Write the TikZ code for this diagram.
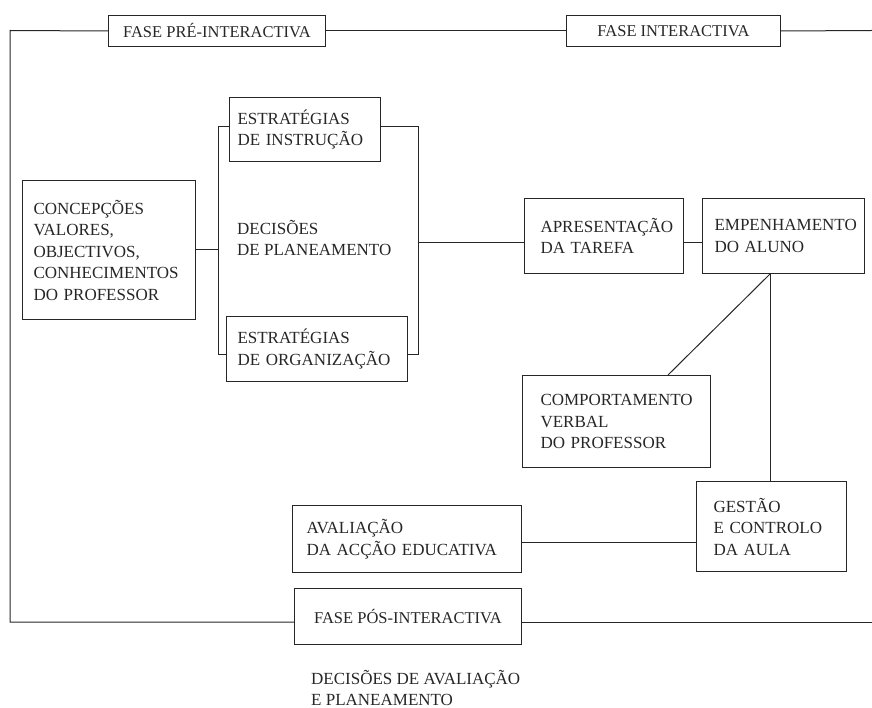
\documentclass[tikz,border=0pt]{standalone}
\usepackage{fontspec}
\setmainfont{Liberation Serif}
\definecolor{ink}{HTML}{262626}
\begin{document}
\begin{tikzpicture}[x=1pt,y=-1pt,
  every node/.style={text=ink},
  box/.style={draw=ink, line width=1pt, inner xsep=14pt, inner ysep=0pt, align=left,
    anchor=north west, font=\fontsize{17}{21.5}\selectfont},
  phase/.style={draw=ink, line width=1pt, inner sep=0pt, align=center,
    anchor=north west, font=\fontsize{16.5}{21.5}\selectfont},
  plain/.style={inner sep=0pt, align=left, anchor=west, font=\fontsize{17}{21.5}\selectfont},
  conn/.style={draw=ink, line width=1pt}]
\useasboundingbox (0,0) rectangle (872,708);

% phase labels
\node[phase, minimum width=217pt, minimum height=31pt] (pre) at (108,15) {FASE PRÉ-INTERACTIVA};
\node[phase, minimum width=214pt, minimum height=31pt] (int) at (566,15) {FASE INTERACTIVA};
\node[phase, minimum width=227pt, minimum height=56pt] (pos) at (294,588) {FASE PÓS-INTERACTIVA};

% boxes
\node[box, inner xsep=11pt, minimum width=173pt, minimum height=139pt, text width=151pt] (conc) at (22,180)
  {CONCEPÇÕES\\VALORES,\\OBJECTIVOS,\\CONHECIMENTOS\\DO PROFESSOR};
\node[box, inner xsep=8pt, minimum width=151pt, minimum height=64pt, text width=135pt] (instr) at (229,97)
  {ESTRATÉGIAS\\DE INSTRUÇÃO};
\node[box, inner xsep=11pt, minimum width=181pt, minimum height=65pt, text width=159pt] (org) at (226,316)
  {ESTRATÉGIAS\\DE ORGANIZAÇÃO};
\node[plain] (dec) at (237,238) {DECISÕES\\DE PLANEAMENTO};
\node[box, inner xsep=16pt, minimum width=159pt, minimum height=75pt, text width=127pt] (apr) at (524,198)
  {APRESENTAÇÃO\\DA TAREFA};
\node[box, inner xsep=12pt, minimum width=162pt, minimum height=75pt, text width=138pt] (emp) at (702,198)
  {EMPENHAMENTO\\DO ALUNO};
\node[box, inner xsep=18pt, minimum width=188pt, minimum height=92pt, text width=152pt] (comp) at (522,375)
  {COMPORTAMENTO\\VERBAL\\DO PROFESSOR};
\node[box, inner xsep=17pt, minimum width=150pt, minimum height=90pt, text width=116pt] (ges) at (696,481)
  {GESTÃO\\E CONTROLO\\DA AULA};
\node[box, inner xsep=14pt, minimum width=229pt, minimum height=67pt, text width=201pt] (ava) at (292,505)
  {AVALIAÇÃO\\DA ACÇÃO EDUCATIVA};
\node[plain] (dav) at (311,688) {DECISÕES DE AVALIAÇÃO\\E PLANEAMENTO};

% frame coordinates
\coordinate (tl) at (10,30.5);
\coordinate (bl) at (10,622);
\coordinate (tr) at (872,30.5);
\coordinate (br) at (872,622);
\draw[conn] (pre.west) -- (tl) -- (bl) -- (bl -| pos.west);
\draw[conn] (pre.east) -- (int.west);
\draw[conn] (int.east) -- (tr);
\draw[conn] (pos.east |- br) -- (br);

% bracket
\coordinate (b1) at (218,127);
\coordinate (b2) at (218,354);
\coordinate (b3) at (418,127);
\coordinate (b4) at (418,354);
\draw[conn] (instr.west |- b1) -- (b1) -- (b2) -- (org.west |- b2);
\draw[conn] (instr.east |- b3) -- (b3) -- (b4) -- (org.east |- b4);
\draw[conn] (conc.east) -- (conc.east -| b1);

% main flow
\coordinate (m) at (418,243);
\draw[conn] (m) -- (m -| apr.west);
\draw[conn] (apr.east |- m) -- (emp.west |- m);
\coordinate (ev) at (770,0);
\coordinate (cv) at (668,0);
\draw[conn] (emp.south -| ev) -- (ges.north -| ev);
\draw[conn] (emp.south -| ev) -- (comp.north -| cv);
\coordinate (g) at (0,542);
\draw[conn] (ava.east |- g) -- (ges.west |- g);
\end{tikzpicture}
\end{document}
